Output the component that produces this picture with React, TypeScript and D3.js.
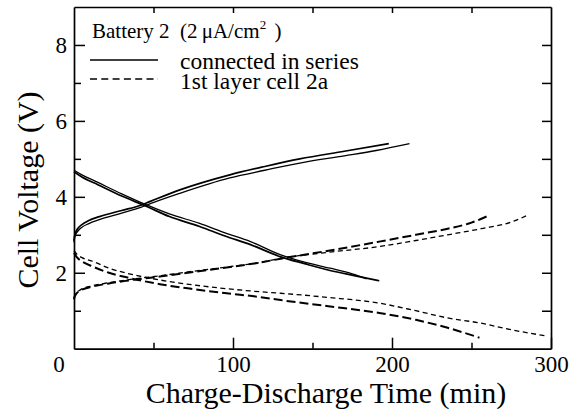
import React, { useEffect, useRef } from 'react';
import * as d3 from 'd3';

// ---- data (time in min, voltage in V) ----
// connected in series, charge (two runs)
const seriesChargeATime = [0, 0.3, 1, 2.5, 5, 9, 16, 30, 42, 48, 67, 98, 120, 142, 170, 198];
const seriesChargeAVolt = [2.84, 2.95, 3.06, 3.17, 3.27, 3.37, 3.48, 3.64, 3.78, 3.88, 4.19, 4.58, 4.8, 5.0, 5.2, 5.4];
const seriesChargeBTime = [0, 0.3, 1, 2.5, 5, 9, 16, 30, 42, 48, 67, 98, 120, 142, 170, 190, 211];
const seriesChargeBVolt = [2.8, 2.9, 3.0, 3.1, 3.2, 3.29, 3.4, 3.57, 3.72, 3.82, 4.1, 4.5, 4.7, 4.89, 5.08, 5.22, 5.4];
// connected in series, discharge
const seriesDischargeATime = [0, 5, 15, 30, 45, 60, 79, 95, 111, 130, 145, 161, 175, 184];
const seriesDischargeAVolt = [4.7, 4.58, 4.38, 4.08, 3.8, 3.55, 3.3, 3.05, 2.82, 2.47, 2.28, 2.12, 1.97, 1.84];
const seriesDischargeBTime = [0, 5, 15, 30, 45, 60, 79, 95, 111, 130, 145, 161, 177, 192];
const seriesDischargeBVolt = [4.66, 4.52, 4.32, 4.02, 3.76, 3.48, 3.22, 2.97, 2.74, 2.42, 2.24, 2.06, 1.92, 1.79];
// 1st layer cell 2a, charge
const cellChargeATime = [0, 0.4, 1.5, 4, 12, 22, 33, 54, 75, 96, 117, 130, 160, 192, 215, 235, 250, 261];
const cellChargeAVolt = [1.3, 1.37, 1.45, 1.53, 1.64, 1.72, 1.79, 1.9, 2.02, 2.14, 2.27, 2.37, 2.58, 2.82, 3.0, 3.16, 3.32, 3.51];
const cellChargeBTime = [0, 0.4, 1.5, 4, 12, 22, 33, 54, 75, 96, 117, 130, 160, 192, 215, 235, 256, 276, 285];
const cellChargeBVolt = [1.32, 1.39, 1.47, 1.55, 1.66, 1.74, 1.81, 1.92, 2.04, 2.15, 2.27, 2.38, 2.54, 2.69, 2.85, 3.0, 3.16, 3.35, 3.51];
// 1st layer cell 2a, discharge
const cellDischargeATime = [0, 2, 5, 12, 22, 33, 54, 75, 96, 117, 130, 160, 192, 215, 235, 255];
const cellDischargeAVolt = [2.52, 2.4, 2.3, 2.16, 2.0, 1.88, 1.7, 1.57, 1.46, 1.36, 1.28, 1.12, 0.94, 0.76, 0.55, 0.29];
const cellDischargeBTime = [0, 2, 5, 12, 22, 33, 54, 75, 96, 117, 130, 160, 192, 215, 235, 255, 276, 298];
const cellDischargeBVolt = [2.58, 2.48, 2.4, 2.3, 2.12, 1.99, 1.81, 1.68, 1.58, 1.5, 1.46, 1.35, 1.2, 1.0, 0.81, 0.68, 0.49, 0.33];

const xMajorTicks = [100, 200, 300];
const xMinorTicks = [50, 150, 250];
const yMajorTicks = [2, 4, 6, 8];
const yMinorTicks = [1, 3, 5, 7];

const FONT = 'Liberation Serif, Times New Roman, Tinos, DejaVu Serif, serif';

const App = () => {
  const svgRef = useRef<SVGSVGElement>(null);

  useEffect(() => {
    const svg = d3.select(svgRef.current);
    svg.selectAll('*').remove();

    const left = 74, right = 551, top = 7, bottom = 348.7;
    const x = d3.scaleLinear().domain([0, 300]).range([left, right]);
    const y = d3.scaleLinear().domain([0, 9]).range([bottom, top]);

    const styleAxis = (g: any) => {
      g.attr('font-family', FONT).attr('font-size', 23);
      g.selectAll('.domain').attr('stroke', '#000').attr('stroke-width', 1.7);
      g.selectAll('.tick line').attr('stroke', '#000').attr('stroke-width', 1.5);
      g.selectAll('.tick text').attr('fill', '#000').attr('font-family', FONT);
    };

    // bottom
    svg.append('g').attr('transform', `translate(0,${bottom})`)
      .call(d3.axisBottom(x).tickValues(xMajorTicks).tickSize(-11).tickSizeOuter(0).tickPadding(7) as any)
      .call(styleAxis);
    svg.append('g').attr('transform', `translate(0,${bottom})`)
      .call(d3.axisBottom(x).tickValues(xMinorTicks).tickSize(-6).tickFormat(() => '') as any)
      .call(styleAxis).call((g: any) => g.select('.domain').remove());
    // top
    svg.append('g').attr('transform', `translate(0,${top})`)
      .call(d3.axisTop(x).tickValues([...xMinorTicks, 100, 200]).tickSize(-6).tickSizeOuter(0).tickFormat(() => '') as any)
      .call(styleAxis);
    // left
    svg.append('g').attr('transform', `translate(${left},0)`)
      .call(d3.axisLeft(y).tickValues(yMajorTicks).tickSize(-11).tickSizeOuter(0).tickPadding(7) as any)
      .call(styleAxis);
    svg.append('g').attr('transform', `translate(${left},0)`)
      .call(d3.axisLeft(y).tickValues(yMinorTicks).tickSize(-7).tickFormat(() => '') as any)
      .call(styleAxis).call((g: any) => g.select('.domain').remove());
    // right
    svg.append('g').attr('transform', `translate(${right},0)`)
      .call(d3.axisRight(y).tickValues([...yMinorTicks, ...yMajorTicks]).tickSize(-9).tickSizeOuter(0).tickFormat(() => '') as any)
      .call(styleAxis);

    const txt = (parent: any) => parent.append('text').attr('font-family', FONT).attr('fill', '#000');

    // shared corner zero
    txt(svg).attr('x', x(0) - 15).attr('y', 372).attr('text-anchor', 'middle')
      .attr('font-size', 23).text('0');

    // axis titles
    txt(svg).attr('x', 326).attr('y', 403).attr('text-anchor', 'middle')
      .attr('font-size', 30).text('Charge-Discharge Time (min)');
    txt(svg).attr('transform', 'translate(38,190) rotate(-90)').attr('text-anchor', 'middle')
      .attr('font-size', 30).text('Cell Voltage (V)');

    const curves = [
      { t: seriesChargeATime, v: seriesChargeAVolt, w: 1.7, dash: null },
      { t: seriesChargeBTime, v: seriesChargeBVolt, w: 1.3, dash: null },
      { t: seriesDischargeATime, v: seriesDischargeAVolt, w: 1.3, dash: null },
      { t: seriesDischargeBTime, v: seriesDischargeBVolt, w: 1.7, dash: null },
      { t: cellChargeATime, v: cellChargeAVolt, w: 2, dash: '9 4' },
      { t: cellChargeBTime, v: cellChargeBVolt, w: 1.3, dash: '5 3.5' },
      { t: cellDischargeATime, v: cellDischargeAVolt, w: 2, dash: '9 4' },
      { t: cellDischargeBTime, v: cellDischargeBVolt, w: 1.3, dash: '5 3.5' },
    ];

    const line = d3.line<[number, number]>()
      .x(d => x(d[0]))
      .y(d => y(d[1]))
      .curve(d3.curveMonotoneX);

    svg.append('g').selectAll('path')
      .data(curves)
      .join('path')
      .attr('d', d => line(d.t.map((t, i) => [t, d.v[i]] as [number, number])))
      .attr('fill', 'none')
      .attr('stroke', '#000')
      .attr('stroke-width', d => d.w)
      .attr('stroke-dasharray', d => d.dash);

    // legend
    const lg = svg.append('g');
    txt(lg).attr('x', 92).attr('y', 38).attr('font-size', 21).text('Battery 2');
    const unit = txt(lg).attr('x', 180).attr('y', 38).attr('font-size', 21);
    unit.append('tspan').text('(2\u2009\u03bcA/cm');
    unit.append('tspan').attr('font-size', 13).attr('dy', -9).text('2');
    unit.append('tspan').attr('dy', 9).text('\u2009\u2009)');

    lg.append('line').attr('x1', 90).attr('x2', 158).attr('y1', 60).attr('y2', 60)
      .attr('stroke', '#000').attr('stroke-width', 1.6);
    lg.append('line').attr('x1', 90).attr('x2', 158).attr('y1', 79).attr('y2', 79)
      .attr('stroke', '#000').attr('stroke-width', 1.6).attr('stroke-dasharray', '7 4.3');
    txt(lg).attr('x', 180).attr('y', 69).attr('font-size', 23.5).text('connected in series');
    txt(lg).attr('x', 180).attr('y', 89).attr('font-size', 23.5).text('1st layer cell 2a');
  }, []);

  return (
    <svg ref={svgRef} width={577} height={414}
      style={{ position: 'absolute', left: 0, top: 0, background: '#fff' }} />
  );
};

export default App;
